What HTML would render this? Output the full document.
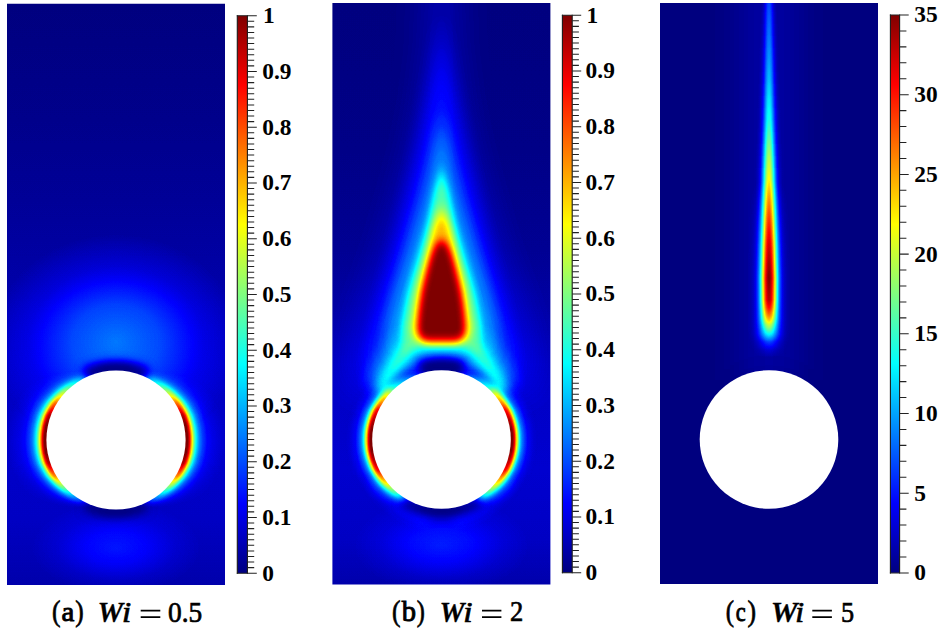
<!DOCTYPE html>
<html><head><meta charset="utf-8"><title>Figure</title>
<style>
html,body{margin:0;padding:0;background:#fff;}
body{width:943px;height:642px;overflow:hidden;position:relative;font-family:"Liberation Serif",serif;}
svg{position:absolute;left:0;top:0;display:block}
text{font-family:"Liberation Serif",serif;}
.tl{font-weight:bold;font-size:23.4px;fill:#000;}
.cap{font-size:28px;fill:#000;stroke:#000;}
</style></head><body>
<svg width="943" height="642" viewBox="0 0 943 642">
<defs>
<filter id="jet" x="0" y="0" width="100%" height="100%" filterUnits="objectBoundingBox" color-interpolation-filters="sRGB">
<feComponentTransfer>
<feFuncR type="table" tableValues="0 0 0 0 0.5 1 1 1 0.5"/>
<feFuncG type="table" tableValues="0 0 0.5 1 1 1 0.5 0 0"/>
<feFuncB type="table" tableValues="0.5 1 1 1 0.5 0 0 0 0"/>
</feComponentTransfer>
</filter>
<linearGradient id="jetbar" x1="0" y1="0" x2="0" y2="1">
<stop offset="0%" stop-color="#800000"/><stop offset="12.5%" stop-color="#ff0000"/><stop offset="37.5%" stop-color="#ffff00"/><stop offset="62.5%" stop-color="#00ffff"/><stop offset="87.5%" stop-color="#0000ff"/><stop offset="100%" stop-color="#000080"/></linearGradient>
<filter id="b1" filterUnits="userSpaceOnUse" x="-60" y="-120" width="1063" height="882" color-interpolation-filters="sRGB"><feGaussianBlur stdDeviation="1 1"/></filter>
<filter id="b1_5" filterUnits="userSpaceOnUse" x="-60" y="-120" width="1063" height="882" color-interpolation-filters="sRGB"><feGaussianBlur stdDeviation="1.5 1.5"/></filter>
<filter id="b2" filterUnits="userSpaceOnUse" x="-60" y="-120" width="1063" height="882" color-interpolation-filters="sRGB"><feGaussianBlur stdDeviation="2 2"/></filter>
<filter id="b3" filterUnits="userSpaceOnUse" x="-60" y="-120" width="1063" height="882" color-interpolation-filters="sRGB"><feGaussianBlur stdDeviation="3 3"/></filter>
<filter id="b4" filterUnits="userSpaceOnUse" x="-60" y="-120" width="1063" height="882" color-interpolation-filters="sRGB"><feGaussianBlur stdDeviation="4 4"/></filter>
<filter id="b5" filterUnits="userSpaceOnUse" x="-60" y="-120" width="1063" height="882" color-interpolation-filters="sRGB"><feGaussianBlur stdDeviation="5 5"/></filter>
<filter id="b6" filterUnits="userSpaceOnUse" x="-60" y="-120" width="1063" height="882" color-interpolation-filters="sRGB"><feGaussianBlur stdDeviation="6 6"/></filter>
<filter id="b8" filterUnits="userSpaceOnUse" x="-60" y="-120" width="1063" height="882" color-interpolation-filters="sRGB"><feGaussianBlur stdDeviation="8 8"/></filter>
<filter id="b10" filterUnits="userSpaceOnUse" x="-60" y="-120" width="1063" height="882" color-interpolation-filters="sRGB"><feGaussianBlur stdDeviation="10 10"/></filter>
<filter id="b12" filterUnits="userSpaceOnUse" x="-60" y="-120" width="1063" height="882" color-interpolation-filters="sRGB"><feGaussianBlur stdDeviation="12 12"/></filter>
<filter id="b16" filterUnits="userSpaceOnUse" x="-60" y="-120" width="1063" height="882" color-interpolation-filters="sRGB"><feGaussianBlur stdDeviation="16 16"/></filter>
<filter id="b20" filterUnits="userSpaceOnUse" x="-60" y="-120" width="1063" height="882" color-interpolation-filters="sRGB"><feGaussianBlur stdDeviation="20 20"/></filter>
<filter id="b30" filterUnits="userSpaceOnUse" x="-60" y="-120" width="1063" height="882" color-interpolation-filters="sRGB"><feGaussianBlur stdDeviation="30 30"/></filter>
<filter id="b5x14" filterUnits="userSpaceOnUse" x="-60" y="-120" width="1063" height="882" color-interpolation-filters="sRGB"><feGaussianBlur stdDeviation="5 14"/></filter>
<filter id="b9x16" filterUnits="userSpaceOnUse" x="-60" y="-120" width="1063" height="882" color-interpolation-filters="sRGB"><feGaussianBlur stdDeviation="9 16"/></filter>
<filter id="b18x20" filterUnits="userSpaceOnUse" x="-60" y="-120" width="1063" height="882" color-interpolation-filters="sRGB"><feGaussianBlur stdDeviation="18 20"/></filter>
<filter id="b7x14" filterUnits="userSpaceOnUse" x="-60" y="-120" width="1063" height="882" color-interpolation-filters="sRGB"><feGaussianBlur stdDeviation="7 14"/></filter>
<filter id="b3_5x8" filterUnits="userSpaceOnUse" x="-60" y="-120" width="1063" height="882" color-interpolation-filters="sRGB"><feGaussianBlur stdDeviation="3.5 8"/></filter>
<filter id="b9x20" filterUnits="userSpaceOnUse" x="-60" y="-120" width="1063" height="882" color-interpolation-filters="sRGB"><feGaussianBlur stdDeviation="9 20"/></filter>
<filter id="b3x5" filterUnits="userSpaceOnUse" x="-60" y="-120" width="1063" height="882" color-interpolation-filters="sRGB"><feGaussianBlur stdDeviation="3 5"/></filter>
<filter id="b7x20" filterUnits="userSpaceOnUse" x="-60" y="-120" width="1063" height="882" color-interpolation-filters="sRGB"><feGaussianBlur stdDeviation="7 20"/></filter>
<filter id="b14x20" filterUnits="userSpaceOnUse" x="-60" y="-120" width="1063" height="882" color-interpolation-filters="sRGB"><feGaussianBlur stdDeviation="14 20"/></filter>
<filter id="b10x20" filterUnits="userSpaceOnUse" x="-60" y="-120" width="1063" height="882" color-interpolation-filters="sRGB"><feGaussianBlur stdDeviation="10 20"/></filter>
<filter id="b6x14" filterUnits="userSpaceOnUse" x="-60" y="-120" width="1063" height="882" color-interpolation-filters="sRGB"><feGaussianBlur stdDeviation="6 14"/></filter>
<filter id="b5x20" filterUnits="userSpaceOnUse" x="-60" y="-120" width="1063" height="882" color-interpolation-filters="sRGB"><feGaussianBlur stdDeviation="5 20"/></filter>
<filter id="b8x14" filterUnits="userSpaceOnUse" x="-60" y="-120" width="1063" height="882" color-interpolation-filters="sRGB"><feGaussianBlur stdDeviation="8 14"/></filter>
<filter id="b6x12" filterUnits="userSpaceOnUse" x="-60" y="-120" width="1063" height="882" color-interpolation-filters="sRGB"><feGaussianBlur stdDeviation="6 12"/></filter>
<filter id="b3x6" filterUnits="userSpaceOnUse" x="-60" y="-120" width="1063" height="882" color-interpolation-filters="sRGB"><feGaussianBlur stdDeviation="3 6"/></filter>
<filter id="b4x10" filterUnits="userSpaceOnUse" x="-60" y="-120" width="1063" height="882" color-interpolation-filters="sRGB"><feGaussianBlur stdDeviation="4 10"/></filter>
<filter id="b3x8" filterUnits="userSpaceOnUse" x="-60" y="-120" width="1063" height="882" color-interpolation-filters="sRGB"><feGaussianBlur stdDeviation="3 8"/></filter>
<filter id="b8x20" filterUnits="userSpaceOnUse" x="-60" y="-120" width="1063" height="882" color-interpolation-filters="sRGB"><feGaussianBlur stdDeviation="8 20"/></filter>
<filter id="b10x30" filterUnits="userSpaceOnUse" x="-60" y="-120" width="1063" height="882" color-interpolation-filters="sRGB"><feGaussianBlur stdDeviation="10 30"/></filter>
<filter id="b3x20" filterUnits="userSpaceOnUse" x="-60" y="-120" width="1063" height="882" color-interpolation-filters="sRGB"><feGaussianBlur stdDeviation="3 20"/></filter>
<filter id="b2x12" filterUnits="userSpaceOnUse" x="-60" y="-120" width="1063" height="882" color-interpolation-filters="sRGB"><feGaussianBlur stdDeviation="2 12"/></filter>
<clipPath id="clipa"><rect x="7" y="3.7" width="218" height="581.3"/></clipPath>
<clipPath id="clipb"><rect x="332.4" y="3" width="218" height="581.4"/></clipPath>
<clipPath id="clipc"><rect x="660" y="3" width="218" height="581"/></clipPath>
<linearGradient id="bgA" x1="0" y1="3" x2="0" y2="585" gradientUnits="userSpaceOnUse"><stop offset="0.0000" stop-color="#000000"/><stop offset="0.2010" stop-color="#030303"/><stop offset="0.3385" stop-color="#060606"/><stop offset="0.4759" stop-color="#0a0a0a"/><stop offset="0.6134" stop-color="#0f0f0f"/><stop offset="0.7509" stop-color="#131313"/><stop offset="0.8883" stop-color="#111111"/><stop offset="1.0000" stop-color="#0b0b0b"/></linearGradient>
<radialGradient id="halo" cx="0.5" cy="0.5" r="0.5">
<stop offset="0" stop-color="#fff" stop-opacity="1"/><stop offset="0.35" stop-color="#fff" stop-opacity="0.75"/><stop offset="0.7" stop-color="#fff" stop-opacity="0.25"/><stop offset="1" stop-color="#fff" stop-opacity="0"/>
</radialGradient>
<radialGradient id="dark" cx="0.5" cy="0.5" r="0.5">
<stop offset="0" stop-color="#000" stop-opacity="1"/><stop offset="0.4" stop-color="#000" stop-opacity="0.8"/><stop offset="0.75" stop-color="#000" stop-opacity="0.3"/><stop offset="1" stop-color="#000" stop-opacity="0"/>
</radialGradient>
<linearGradient id="gauss" x1="0" y1="0" x2="1" y2="0"><stop offset="0.0000" stop-color="#fff" stop-opacity="0.0000"/><stop offset="0.0208" stop-color="#fff" stop-opacity="0.0160"/><stop offset="0.0417" stop-color="#fff" stop-opacity="0.0228"/><stop offset="0.0625" stop-color="#fff" stop-opacity="0.0319"/><stop offset="0.0833" stop-color="#fff" stop-opacity="0.0439"/><stop offset="0.1042" stop-color="#fff" stop-opacity="0.0596"/><stop offset="0.1250" stop-color="#fff" stop-opacity="0.0796"/><stop offset="0.1458" stop-color="#fff" stop-opacity="0.1046"/><stop offset="0.1667" stop-color="#fff" stop-opacity="0.1353"/><stop offset="0.1875" stop-color="#fff" stop-opacity="0.1724"/><stop offset="0.2083" stop-color="#fff" stop-opacity="0.2163"/><stop offset="0.2292" stop-color="#fff" stop-opacity="0.2671"/><stop offset="0.2500" stop-color="#fff" stop-opacity="0.3247"/><stop offset="0.2708" stop-color="#fff" stop-opacity="0.3886"/><stop offset="0.2917" stop-color="#fff" stop-opacity="0.4578"/><stop offset="0.3125" stop-color="#fff" stop-opacity="0.5311"/><stop offset="0.3333" stop-color="#fff" stop-opacity="0.6065"/><stop offset="0.3542" stop-color="#fff" stop-opacity="0.6819"/><stop offset="0.3750" stop-color="#fff" stop-opacity="0.7548"/><stop offset="0.3958" stop-color="#fff" stop-opacity="0.8226"/><stop offset="0.4167" stop-color="#fff" stop-opacity="0.8825"/><stop offset="0.4375" stop-color="#fff" stop-opacity="0.9321"/><stop offset="0.4583" stop-color="#fff" stop-opacity="0.9692"/><stop offset="0.4792" stop-color="#fff" stop-opacity="0.9922"/><stop offset="0.5000" stop-color="#fff" stop-opacity="1.0000"/><stop offset="0.5208" stop-color="#fff" stop-opacity="0.9922"/><stop offset="0.5417" stop-color="#fff" stop-opacity="0.9692"/><stop offset="0.5625" stop-color="#fff" stop-opacity="0.9321"/><stop offset="0.5833" stop-color="#fff" stop-opacity="0.8825"/><stop offset="0.6042" stop-color="#fff" stop-opacity="0.8226"/><stop offset="0.6250" stop-color="#fff" stop-opacity="0.7548"/><stop offset="0.6458" stop-color="#fff" stop-opacity="0.6819"/><stop offset="0.6667" stop-color="#fff" stop-opacity="0.6065"/><stop offset="0.6875" stop-color="#fff" stop-opacity="0.5311"/><stop offset="0.7083" stop-color="#fff" stop-opacity="0.4578"/><stop offset="0.7292" stop-color="#fff" stop-opacity="0.3886"/><stop offset="0.7500" stop-color="#fff" stop-opacity="0.3247"/><stop offset="0.7708" stop-color="#fff" stop-opacity="0.2671"/><stop offset="0.7917" stop-color="#fff" stop-opacity="0.2163"/><stop offset="0.8125" stop-color="#fff" stop-opacity="0.1724"/><stop offset="0.8333" stop-color="#fff" stop-opacity="0.1353"/><stop offset="0.8542" stop-color="#fff" stop-opacity="0.1046"/><stop offset="0.8750" stop-color="#fff" stop-opacity="0.0796"/><stop offset="0.8958" stop-color="#fff" stop-opacity="0.0596"/><stop offset="0.9167" stop-color="#fff" stop-opacity="0.0439"/><stop offset="0.9375" stop-color="#fff" stop-opacity="0.0319"/><stop offset="0.9583" stop-color="#fff" stop-opacity="0.0228"/><stop offset="0.9792" stop-color="#fff" stop-opacity="0.0160"/><stop offset="1.0000" stop-color="#fff" stop-opacity="0.0000"/></linearGradient>
<linearGradient id="cVNg" x1="0" y1="-10" x2="0" y2="400" gradientUnits="userSpaceOnUse"><stop offset="0.0317" stop-color="#2b2b2b"/><stop offset="0.1220" stop-color="#383838"/><stop offset="0.2195" stop-color="#4a4a4a"/><stop offset="0.3171" stop-color="#616161"/><stop offset="0.3902" stop-color="#808080"/><stop offset="0.4634" stop-color="#9e9e9e"/><stop offset="0.5366" stop-color="#bababa"/><stop offset="0.6341" stop-color="#e3e3e3"/><stop offset="0.7024" stop-color="#ffffff"/><stop offset="0.7561" stop-color="#e7e7e7"/><stop offset="0.7756" stop-color="#bdbdbd"/><stop offset="0.7951" stop-color="#858585"/><stop offset="0.8171" stop-color="#363636"/><stop offset="0.8390" stop-color="#000000"/></linearGradient><mask id="cVN" maskUnits="userSpaceOnUse" x="700" y="-10" width="140" height="410"><rect x="700" y="-10" width="140" height="410" fill="url(#cVNg)"/></mask>
<linearGradient id="cVWg" x1="0" y1="-10" x2="0" y2="400" gradientUnits="userSpaceOnUse"><stop offset="0.4634" stop-color="#000000"/><stop offset="0.5488" stop-color="#333333"/><stop offset="0.6220" stop-color="#595959"/><stop offset="0.7024" stop-color="#757575"/><stop offset="0.8049" stop-color="#757575"/><stop offset="0.8220" stop-color="#6b6b6b"/><stop offset="0.8390" stop-color="#5c5c5c"/><stop offset="0.8585" stop-color="#292929"/><stop offset="0.8780" stop-color="#0d0d0d"/><stop offset="0.8976" stop-color="#000000"/></linearGradient><mask id="cVW" maskUnits="userSpaceOnUse" x="700" y="-10" width="140" height="410"><rect x="700" y="-10" width="140" height="410" fill="url(#cVWg)"/></mask>
</defs>
<g clip-path="url(#clipa)"><g filter="url(#jet)">
<rect x="5" y="1.7000000000000002" width="222" height="585.3" fill="url(#bgA)"/>
<ellipse cx="116" cy="342" rx="125" ry="108" fill="url(#halo)" opacity="0.2"/>
<ellipse cx="116" cy="548" rx="85" ry="46" fill="url(#halo)" opacity="0.095"/>
<radialGradient id="blAr" gradientUnits="userSpaceOnUse" cx="116" cy="440" r="109.6"><stop offset="0.6259" stop-color="#fff" stop-opacity="1"/><stop offset="0.6350" stop-color="#fff" stop-opacity="1.000"/><stop offset="0.6533" stop-color="#fff" stop-opacity="1.000"/><stop offset="0.6624" stop-color="#fff" stop-opacity="0.946"/><stop offset="0.6734" stop-color="#fff" stop-opacity="0.865"/><stop offset="0.6843" stop-color="#fff" stop-opacity="0.730"/><stop offset="0.6971" stop-color="#fff" stop-opacity="0.595"/><stop offset="0.7117" stop-color="#fff" stop-opacity="0.459"/><stop offset="0.7308" stop-color="#fff" stop-opacity="0.324"/><stop offset="0.7464" stop-color="#fff" stop-opacity="0.254"/><stop offset="0.7628" stop-color="#fff" stop-opacity="0.189"/><stop offset="0.7901" stop-color="#fff" stop-opacity="0.124"/><stop offset="0.8312" stop-color="#fff" stop-opacity="0.059"/><stop offset="0.8814" stop-color="#fff" stop-opacity="0.032"/><stop offset="0.9361" stop-color="#fff" stop-opacity="0.016"/><stop offset="1" stop-color="#fff" stop-opacity="0"/></radialGradient><linearGradient id="blAw" gradientUnits="userSpaceOnUse" x1="0" y1="330.4" x2="0" y2="549.6"><stop offset="0.1816" stop-color="#000000"/><stop offset="0.1998" stop-color="#0d0d0d"/><stop offset="0.2226" stop-color="#292929"/><stop offset="0.2482" stop-color="#4c4c4c"/><stop offset="0.2755" stop-color="#717171"/><stop offset="0.3034" stop-color="#959595"/><stop offset="0.3276" stop-color="#b8b8b8"/><stop offset="0.3631" stop-color="#dbdbdb"/><stop offset="0.3869" stop-color="#f1f1f1"/><stop offset="0.4325" stop-color="#ffffff"/><stop offset="0.4964" stop-color="#ffffff"/><stop offset="0.4964" stop-color="#ffffff"/><stop offset="0.5602" stop-color="#ffffff"/><stop offset="0.6058" stop-color="#f1f1f1"/><stop offset="0.6296" stop-color="#dbdbdb"/><stop offset="0.6651" stop-color="#b8b8b8"/><stop offset="0.6893" stop-color="#959595"/><stop offset="0.7172" stop-color="#717171"/><stop offset="0.7445" stop-color="#4c4c4c"/><stop offset="0.7701" stop-color="#292929"/><stop offset="0.7929" stop-color="#0d0d0d"/><stop offset="0.8111" stop-color="#000000"/></linearGradient><mask id="blAm" maskUnits="userSpaceOnUse" x="4.400000000000006" y="330.4" width="223.2" height="219.20000000000005"><rect x="4.400000000000006" y="330.4" width="223.2" height="219.20000000000005" fill="url(#blAw)"/></mask>
<circle cx="116" cy="440" r="109.6" fill="url(#blAr)" mask="url(#blAm)"/>
<path d="M85.74 375.11A71.6 71.6 0 0 1 146.26 375.11" fill="none" stroke="#000" stroke-opacity="0.95" stroke-width="15" stroke-linecap="butt" filter="url(#b4)"/>
<path d="M98.92 371.50A70.6 70.6 0 0 1 133.08 371.50" fill="none" stroke="#000" stroke-opacity="0.8" stroke-width="8" stroke-linecap="butt" filter="url(#b3)"/>
<path d="M146.26 504.89A71.6 71.6 0 0 1 85.74 504.89" fill="none" stroke="#000" stroke-opacity="0.9" stroke-width="13" stroke-linecap="butt" filter="url(#b4)"/>
<path d="M133.08 508.50A70.6 70.6 0 0 1 98.92 508.50" fill="none" stroke="#000" stroke-opacity="0.7" stroke-width="7" stroke-linecap="butt" filter="url(#b3)"/>
</g></g>
<circle cx="116" cy="440" r="69.6" fill="#fff"/>
<linearGradient id="bgB" x1="0" y1="3" x2="0" y2="585" gradientUnits="userSpaceOnUse"><stop offset="0.0000" stop-color="#000000"/><stop offset="0.2526" stop-color="#020202"/><stop offset="0.4244" stop-color="#050505"/><stop offset="0.5619" stop-color="#0b0b0b"/><stop offset="0.6821" stop-color="#121212"/><stop offset="0.8024" stop-color="#141414"/><stop offset="0.9227" stop-color="#111111"/><stop offset="1.0000" stop-color="#0b0b0b"/></linearGradient>
<g clip-path="url(#clipb)"><g filter="url(#jet)">
<rect x="330.4" y="1" width="222" height="585.4" fill="url(#bgB)"/>
<rect x="429.5" y="-80" width="24" height="290" fill="#fff" fill-opacity="0.012" filter="url(#b9x20)"/>
<path d="M451.5 -60.0 L455.5 50.0 L461.5 100.0 L471.5 150.0 L485.5 200.0 L499.5 250.0 L527.5 325.0 L538.5 385.0 Q538.5 390 524.5 390 L358.5 390 Q344.5 390 344.5 385.0 L355.5 325.0 L383.5 250.0 L397.5 200.0 L411.5 150.0 L421.5 100.0 L427.5 50.0 L431.5 -60.0Z" fill="#fff" fill-opacity="0.07" filter="url(#b18x20)"/>
<path d="M441.5 20.0 L448.5 60.0 L456.0 100.0 L465.5 150.0 L476.5 200.0 L488.5 250.0 L500.0 295.0 L506.5 325.0 L517.5 380.0 Q517.5 385 503.5 385 L379.5 385 Q365.5 385 365.5 380.0 L376.5 325.0 L383.0 295.0 L394.5 250.0 L406.5 200.0 L417.5 150.0 L427.0 100.0 L434.5 60.0 L441.5 20.0Z" fill="#fff" fill-opacity="0.09" filter="url(#b9x16)"/>
<path d="M441.5 120.0 L447.5 140.0 L453.5 170.0 L460.5 200.0 L475.5 250.0 L484.0 280.0 L488.1 295.0 L494.8 325.0 L497.5 340.0 Q497.5 348 485.5 348 L397.5 348 Q385.5 348 385.5 340.0 L388.2 325.0 L394.9 295.0 L399.0 280.0 L407.5 250.0 L422.5 200.0 L429.5 170.0 L435.5 140.0 L441.5 120.0Z" fill="#fff" fill-opacity="0.13" filter="url(#b7x14)"/>
<path d="M441.5 172.0 L445.5 180.0 L450.5 200.0 L455.5 225.0 L462.5 250.0 L471.5 280.0 L475.5 295.0 L480.9 325.0 L482.5 337.0 Q482.5 346 468.5 346 L414.5 346 Q400.5 346 400.5 337.0 L402.1 325.0 L407.5 295.0 L411.5 280.0 L420.5 250.0 L427.5 225.0 L432.5 200.0 L437.5 180.0 L441.5 172.0Z" fill="#fff" fill-opacity="0.25" filter="url(#b3x8)"/>
<path d="M441.5 210.0 L445.5 216.0 L450.0 228.0 L455.0 250.0 L463.0 280.0 L466.1 295.0 L470.5 325.0 L471.5 333.0 Q471.5 343 457.5 343 L425.5 343 Q411.5 343 411.5 333.0 L412.5 325.0 L416.9 295.0 L420.0 280.0 L428.0 250.0 L433.0 228.0 L437.5 216.0 L441.5 210.0Z" fill="#fff" fill-opacity="0.45" filter="url(#b3_5x8)"/>
<path d="M441.5 240.0 L446.5 244.0 L450.0 252.0 L453.0 262.0 L456.5 276.0 L459.8 290.0 L462.2 305.0 L463.7 318.0 L464.3 330.0 Q464.3 341 452.3 341 L430.7 341 Q418.7 341 418.7 330.0 L419.3 318.0 L420.8 305.0 L423.2 290.0 L426.5 276.0 L430.0 262.0 L433.0 252.0 L436.5 244.0 L441.5 240.0Z" fill="#fff" fill-opacity="1.0" filter="url(#b3x5)"/>
<path d="M411.5 344 Q392.5 366 380.5 390" fill="none" stroke="#fff" stroke-opacity="0.15" stroke-width="30" filter="url(#b8)"/>
<path d="M411.5 344 Q392.5 366 380.5 390" fill="none" stroke="#fff" stroke-opacity="0.17" stroke-width="12" filter="url(#b5)"/>
<path d="M430.60 517.04A78.3 78.3 0 0 1 373.69 478.65" fill="none" stroke="#fff" stroke-opacity="0.06" stroke-width="14" stroke-linecap="butt" filter="url(#b6)"/>
<path d="M471.5 344 Q490.5 366 502.5 390" fill="none" stroke="#fff" stroke-opacity="0.15" stroke-width="30" filter="url(#b8)"/>
<path d="M471.5 344 Q490.5 366 502.5 390" fill="none" stroke="#fff" stroke-opacity="0.17" stroke-width="12" filter="url(#b5)"/>
<path d="M509.31 478.65A78.3 78.3 0 0 1 452.40 517.04" fill="none" stroke="#fff" stroke-opacity="0.06" stroke-width="14" stroke-linecap="butt" filter="url(#b6)"/>
<ellipse cx="441.5" cy="545.5" rx="88" ry="48" fill="url(#halo)" opacity="0.095"/>
<radialGradient id="blBr" gradientUnits="userSpaceOnUse" cx="441.5" cy="439.5" r="97.3"><stop offset="0.7020" stop-color="#fff" stop-opacity="1"/><stop offset="0.7122" stop-color="#fff" stop-opacity="1.000"/><stop offset="0.7307" stop-color="#fff" stop-opacity="1.000"/><stop offset="0.7410" stop-color="#fff" stop-opacity="0.946"/><stop offset="0.7523" stop-color="#fff" stop-opacity="0.864"/><stop offset="0.7626" stop-color="#fff" stop-opacity="0.728"/><stop offset="0.7760" stop-color="#fff" stop-opacity="0.592"/><stop offset="0.7893" stop-color="#fff" stop-opacity="0.457"/><stop offset="0.8037" stop-color="#fff" stop-opacity="0.321"/><stop offset="0.8150" stop-color="#fff" stop-opacity="0.250"/><stop offset="0.8294" stop-color="#fff" stop-opacity="0.185"/><stop offset="0.8541" stop-color="#fff" stop-opacity="0.120"/><stop offset="0.8869" stop-color="#fff" stop-opacity="0.049"/><stop offset="0.9486" stop-color="#fff" stop-opacity="0.011"/><stop offset="1" stop-color="#fff" stop-opacity="0"/></radialGradient><linearGradient id="blBw" gradientUnits="userSpaceOnUse" x1="0" y1="330.2" x2="0" y2="548.8"><stop offset="0.1821" stop-color="#000000"/><stop offset="0.2004" stop-color="#0d0d0d"/><stop offset="0.2232" stop-color="#2e2e2e"/><stop offset="0.2461" stop-color="#4f4f4f"/><stop offset="0.2758" stop-color="#737373"/><stop offset="0.3042" stop-color="#969696"/><stop offset="0.3349" stop-color="#b9b9b9"/><stop offset="0.3651" stop-color="#dcdcdc"/><stop offset="0.4131" stop-color="#f2f2f2"/><stop offset="0.4565" stop-color="#ffffff"/><stop offset="0.5023" stop-color="#ffffff"/><stop offset="0.5023" stop-color="#ffffff"/><stop offset="0.5480" stop-color="#ffffff"/><stop offset="0.5915" stop-color="#f2f2f2"/><stop offset="0.6395" stop-color="#dcdcdc"/><stop offset="0.6697" stop-color="#b9b9b9"/><stop offset="0.7004" stop-color="#969696"/><stop offset="0.7287" stop-color="#737373"/><stop offset="0.7585" stop-color="#4f4f4f"/><stop offset="0.7813" stop-color="#2e2e2e"/><stop offset="0.8042" stop-color="#0d0d0d"/><stop offset="0.8225" stop-color="#000000"/></linearGradient><mask id="blBm" maskUnits="userSpaceOnUse" x="342.2" y="330.2" width="198.6" height="218.59999999999997"><rect x="342.2" y="330.2" width="198.6" height="218.59999999999997" fill="url(#blBw)"/></mask>
<circle cx="441.5" cy="439.5" r="97.3" fill="url(#blBr)" mask="url(#blBm)"/>
<path d="M389.49 389.28A72.3 72.3 0 0 1 493.51 389.28" fill="none" stroke="#000" stroke-opacity="0.35" stroke-width="10" stroke-linecap="butt" filter="url(#b4)"/>
<path d="M420.07 369.40A73.3 73.3 0 0 1 462.93 369.40" fill="none" stroke="#000" stroke-opacity="0.97" stroke-width="15" stroke-linecap="butt" filter="url(#b4)"/>
<path d="M426.68 369.76A71.3 71.3 0 0 1 456.32 369.76" fill="none" stroke="#000" stroke-opacity="0.85" stroke-width="9" stroke-linecap="butt" filter="url(#b3)"/>
<path d="M479.28 499.97A71.3 71.3 0 0 1 403.72 499.97" fill="none" stroke="#000" stroke-opacity="0.9" stroke-width="13" stroke-linecap="butt" filter="url(#b5)"/>
<path d="M460.88 507.08A70.3 70.3 0 0 1 422.12 507.08" fill="none" stroke="#000" stroke-opacity="0.7" stroke-width="7" stroke-linecap="butt" filter="url(#b3)"/>
</g></g>
<circle cx="441.5" cy="439.5" r="69.3" fill="#fff"/>
<g clip-path="url(#clipc)"><g filter="url(#jet)">
<rect x="658" y="1" width="222" height="585" fill="#000000"/>
<rect x="739" y="-20" width="60" height="400" fill="#fff" fill-opacity="0.035" filter="url(#b16)"/>
<rect x="747.4" y="0" width="43.2" height="400" fill="url(#gauss)" mask="url(#cVW)"/>
<g mask="url(#cVN)"><rect x="759.83" y="0" width="18.34" height="12" fill="url(#gauss)"/><rect x="759.49" y="12" width="19.02" height="12" fill="url(#gauss)"/><rect x="759.15" y="24" width="19.69" height="12" fill="url(#gauss)"/><rect x="758.82" y="36" width="20.37" height="12" fill="url(#gauss)"/><rect x="758.48" y="48" width="21.05" height="12" fill="url(#gauss)"/><rect x="758.14" y="60" width="21.72" height="12" fill="url(#gauss)"/><rect x="757.80" y="72" width="22.40" height="12" fill="url(#gauss)"/><rect x="757.46" y="84" width="23.08" height="12" fill="url(#gauss)"/><rect x="757.12" y="96" width="23.75" height="12" fill="url(#gauss)"/><rect x="756.79" y="108" width="24.43" height="12" fill="url(#gauss)"/><rect x="756.45" y="120" width="25.11" height="12" fill="url(#gauss)"/><rect x="756.11" y="132" width="25.78" height="12" fill="url(#gauss)"/><rect x="755.77" y="144" width="26.46" height="12" fill="url(#gauss)"/><rect x="755.43" y="156" width="27.14" height="12" fill="url(#gauss)"/><rect x="755.09" y="168" width="27.81" height="12" fill="url(#gauss)"/><rect x="755.2" y="180" width="27.599999999999998" height="220" fill="url(#gauss)"/></g>
</g></g>
<circle cx="769" cy="439.5" r="69.3" fill="#fff"/>
<rect x="237.3" y="15.7" width="10.099999999999994" height="557.5" fill="url(#jetbar)"/>
<path d="M237.3 15.2V573.7M247.4 15.2V573.7" stroke="#1a1a1a" stroke-width="1.1" fill="none"/>
<path d="M236.8 573.20H256.8M247.4 567.62H254.2M247.4 562.05H254.2M247.4 556.48H254.2M247.4 550.90H254.2M247.4 545.33H254.2M247.4 539.75H254.2M247.4 534.18H254.2M247.4 528.60H254.2M247.4 523.03H254.2M247.4 517.45H256.8M247.4 511.88H254.2M247.4 506.30H254.2M247.4 500.73H254.2M247.4 495.15H254.2M247.4 489.58H254.2M247.4 484.00H254.2M247.4 478.43H254.2M247.4 472.85H254.2M247.4 467.28H254.2M247.4 461.70H256.8M247.4 456.13H254.2M247.4 450.55H254.2M247.4 444.98H254.2M247.4 439.40H254.2M247.4 433.83H254.2M247.4 428.25H254.2M247.4 422.68H254.2M247.4 417.10H254.2M247.4 411.53H254.2M247.4 405.95H256.8M247.4 400.38H254.2M247.4 394.80H254.2M247.4 389.23H254.2M247.4 383.65H254.2M247.4 378.08H254.2M247.4 372.50H254.2M247.4 366.93H254.2M247.4 361.35H254.2M247.4 355.78H254.2M247.4 350.20H256.8M247.4 344.63H254.2M247.4 339.05H254.2M247.4 333.48H254.2M247.4 327.90H254.2M247.4 322.33H254.2M247.4 316.75H254.2M247.4 311.18H254.2M247.4 305.60H254.2M247.4 300.03H254.2M247.4 294.45H256.8M247.4 288.88H254.2M247.4 283.30H254.2M247.4 277.73H254.2M247.4 272.15H254.2M247.4 266.58H254.2M247.4 261.00H254.2M247.4 255.43H254.2M247.4 249.85H254.2M247.4 244.28H254.2M247.4 238.70H256.8M247.4 233.13H254.2M247.4 227.55H254.2M247.4 221.98H254.2M247.4 216.40H254.2M247.4 210.83H254.2M247.4 205.25H254.2M247.4 199.68H254.2M247.4 194.10H254.2M247.4 188.53H254.2M247.4 182.95H256.8M247.4 177.38H254.2M247.4 171.80H254.2M247.4 166.23H254.2M247.4 160.65H254.2M247.4 155.08H254.2M247.4 149.50H254.2M247.4 143.93H254.2M247.4 138.35H254.2M247.4 132.78H254.2M247.4 127.20H256.8M247.4 121.63H254.2M247.4 116.05H254.2M247.4 110.48H254.2M247.4 104.90H254.2M247.4 99.33H254.2M247.4 93.75H254.2M247.4 88.18H254.2M247.4 82.60H254.2M247.4 77.03H254.2M247.4 71.45H256.8M247.4 65.88H254.2M247.4 60.30H254.2M247.4 54.73H254.2M247.4 49.15H254.2M247.4 43.58H254.2M247.4 38.00H254.2M247.4 32.43H254.2M247.4 26.85H254.2M247.4 21.28H254.2M236.8 15.70H256.8" stroke="#222" stroke-width="1.05" fill="none"/>
<text class="tl" x="262.3" y="580.60">0</text>
<text class="tl" x="262.3" y="524.85">0.1</text>
<text class="tl" x="262.3" y="469.10">0.2</text>
<text class="tl" x="262.3" y="413.35">0.3</text>
<text class="tl" x="262.3" y="357.60">0.4</text>
<text class="tl" x="262.3" y="301.85">0.5</text>
<text class="tl" x="262.3" y="246.10">0.6</text>
<text class="tl" x="262.3" y="190.35">0.7</text>
<text class="tl" x="262.3" y="134.60">0.8</text>
<text class="tl" x="262.3" y="78.85">0.9</text>
<text class="tl" x="263.1" y="23.10">1</text>
<rect x="562.4" y="15.2" width="9.800000000000068" height="557.5" fill="url(#jetbar)"/>
<path d="M562.4 14.7V573.2M572.2 14.7V573.2" stroke="#1a1a1a" stroke-width="1.1" fill="none"/>
<path d="M561.9 572.70H581.2M572.2 567.12H578.9M572.2 561.55H578.9M572.2 555.98H578.9M572.2 550.40H578.9M572.2 544.83H578.9M572.2 539.25H578.9M572.2 533.68H578.9M572.2 528.10H578.9M572.2 522.53H578.9M572.2 516.95H581.2M572.2 511.38H578.9M572.2 505.80H578.9M572.2 500.23H578.9M572.2 494.65H578.9M572.2 489.08H578.9M572.2 483.50H578.9M572.2 477.93H578.9M572.2 472.35H578.9M572.2 466.78H578.9M572.2 461.20H581.2M572.2 455.63H578.9M572.2 450.05H578.9M572.2 444.48H578.9M572.2 438.90H578.9M572.2 433.33H578.9M572.2 427.75H578.9M572.2 422.18H578.9M572.2 416.60H578.9M572.2 411.03H578.9M572.2 405.45H581.2M572.2 399.88H578.9M572.2 394.30H578.9M572.2 388.73H578.9M572.2 383.15H578.9M572.2 377.58H578.9M572.2 372.00H578.9M572.2 366.43H578.9M572.2 360.85H578.9M572.2 355.28H578.9M572.2 349.70H581.2M572.2 344.13H578.9M572.2 338.55H578.9M572.2 332.98H578.9M572.2 327.40H578.9M572.2 321.83H578.9M572.2 316.25H578.9M572.2 310.68H578.9M572.2 305.10H578.9M572.2 299.53H578.9M572.2 293.95H581.2M572.2 288.38H578.9M572.2 282.80H578.9M572.2 277.23H578.9M572.2 271.65H578.9M572.2 266.08H578.9M572.2 260.50H578.9M572.2 254.93H578.9M572.2 249.35H578.9M572.2 243.78H578.9M572.2 238.20H581.2M572.2 232.63H578.9M572.2 227.05H578.9M572.2 221.48H578.9M572.2 215.90H578.9M572.2 210.33H578.9M572.2 204.75H578.9M572.2 199.18H578.9M572.2 193.60H578.9M572.2 188.03H578.9M572.2 182.45H581.2M572.2 176.88H578.9M572.2 171.30H578.9M572.2 165.73H578.9M572.2 160.15H578.9M572.2 154.58H578.9M572.2 149.00H578.9M572.2 143.43H578.9M572.2 137.85H578.9M572.2 132.28H578.9M572.2 126.70H581.2M572.2 121.13H578.9M572.2 115.55H578.9M572.2 109.98H578.9M572.2 104.40H578.9M572.2 98.83H578.9M572.2 93.25H578.9M572.2 87.68H578.9M572.2 82.10H578.9M572.2 76.53H578.9M572.2 70.95H581.2M572.2 65.38H578.9M572.2 59.80H578.9M572.2 54.23H578.9M572.2 48.65H578.9M572.2 43.08H578.9M572.2 37.50H578.9M572.2 31.93H578.9M572.2 26.35H578.9M572.2 20.78H578.9M561.9 15.20H581.2" stroke="#222" stroke-width="1.05" fill="none"/>
<text class="tl" x="585.6" y="580.10">0</text>
<text class="tl" x="585.6" y="524.35">0.1</text>
<text class="tl" x="585.6" y="468.60">0.2</text>
<text class="tl" x="585.6" y="412.85">0.3</text>
<text class="tl" x="585.6" y="357.10">0.4</text>
<text class="tl" x="585.6" y="301.35">0.5</text>
<text class="tl" x="585.6" y="245.60">0.6</text>
<text class="tl" x="585.6" y="189.85">0.7</text>
<text class="tl" x="585.6" y="134.10">0.8</text>
<text class="tl" x="585.6" y="78.35">0.9</text>
<text class="tl" x="586.4" y="22.60">1</text>
<rect x="890.4" y="15.0" width="9.200000000000045" height="557.9" fill="url(#jetbar)"/>
<path d="M890.4 14.5V573.4M899.6 14.5V573.4" stroke="#1a1a1a" stroke-width="1.1" fill="none"/>
<path d="M889.9 572.90H908.7M899.6 556.96H906.4M899.6 541.02H906.4M899.6 525.08H906.4M899.6 509.14H906.4M899.6 493.20H908.7M899.6 477.26H906.4M899.6 461.32H906.4M899.6 445.38H906.4M899.6 429.44H906.4M899.6 413.50H908.7M899.6 397.56H906.4M899.6 381.62H906.4M899.6 365.68H906.4M899.6 349.74H906.4M899.6 333.80H908.7M899.6 317.86H906.4M899.6 301.92H906.4M899.6 285.98H906.4M899.6 270.04H906.4M899.6 254.10H908.7M899.6 238.16H906.4M899.6 222.22H906.4M899.6 206.28H906.4M899.6 190.34H906.4M899.6 174.40H908.7M899.6 158.46H906.4M899.6 142.52H906.4M899.6 126.58H906.4M899.6 110.64H906.4M899.6 94.70H908.7M899.6 78.76H906.4M899.6 62.82H906.4M899.6 46.88H906.4M899.6 30.94H906.4M889.9 15.00H908.7" stroke="#222" stroke-width="1.05" fill="none"/>
<text class="tl" x="914.2" y="580.30">0</text>
<text class="tl" x="914.2" y="500.60">5</text>
<text class="tl" x="914.2" y="420.90">10</text>
<text class="tl" x="914.2" y="341.20">15</text>
<text class="tl" x="914.2" y="261.50">20</text>
<text class="tl" x="914.2" y="181.80">25</text>
<text class="tl" x="914.2" y="102.10">30</text>
<text class="tl" x="914.2" y="22.40">35</text>
<text class="cap" transform="translate(51.89 621.12) scale(0.912 1.073)" stroke-width="0.65">(</text>
<text class="cap" transform="translate(61.56 621.3) scale(1.033 1.007)" stroke-width="0.9">a</text>
<text class="cap" transform="translate(75.34 621.27) scale(0.905 1.088)" stroke-width="0.65">)</text>
<text class="cap" transform="translate(97.4 621.74) scale(1.027 1.074)" font-style="italic" font-weight="bold" stroke-width="0.25">W</text>
<text class="cap" transform="translate(122.09 621.66) scale(1.18 1.037)" font-style="italic" stroke-width="0.65">i</text>
<text class="cap" transform="translate(168.08 621.65) scale(0.979 1.062)" stroke-width="0.65">0.5</text>
<text class="cap" transform="translate(391.89 621.12) scale(0.912 1.073)" stroke-width="0.65">(</text>
<text class="cap" transform="translate(401.79 621.29) scale(1.019 1.036)" stroke-width="0.9">b</text>
<text class="cap" transform="translate(416.65 621.27) scale(0.869 1.088)" stroke-width="0.65">)</text>
<text class="cap" transform="translate(439.54 621.74) scale(1.003 1.074)" font-style="italic" font-weight="bold" stroke-width="0.25">W</text>
<text class="cap" transform="translate(463.27 621.66) scale(1.196 1.037)" font-style="italic" stroke-width="0.65">i</text>
<text class="cap" transform="translate(510.07 621.06) scale(0.949 1.032)" stroke-width="0.65">2</text>
<text class="cap" transform="translate(725.81 621.12) scale(0.888 1.073)" stroke-width="0.65">(</text>
<text class="cap" transform="translate(735.8 621.3) scale(0.801 1.009)" stroke-width="0.9">c</text>
<text class="cap" transform="translate(747.53 621.27) scale(0.917 1.088)" stroke-width="0.65">)</text>
<text class="cap" transform="translate(770.71 621.74) scale(1.075 1.074)" font-style="italic" font-weight="bold" stroke-width="0.25">W</text>
<text class="cap" transform="translate(795.14 621.66) scale(1.133 1.037)" font-style="italic" stroke-width="0.65">i</text>
<text class="cap" transform="translate(841.11 621.65) scale(0.937 1.062)" stroke-width="0.65">5</text>
<path d="M140.7 610.7H160.3M140.7 617.2H160.3" stroke="#000" stroke-width="1.8" fill="none"/>
<path d="M482.0 610.7H501.4M482.0 617.2H501.4" stroke="#000" stroke-width="1.8" fill="none"/>
<path d="M812.3 610.7H831.9M812.3 617.2H831.9" stroke="#000" stroke-width="1.8" fill="none"/>
</svg>
</body></html>
